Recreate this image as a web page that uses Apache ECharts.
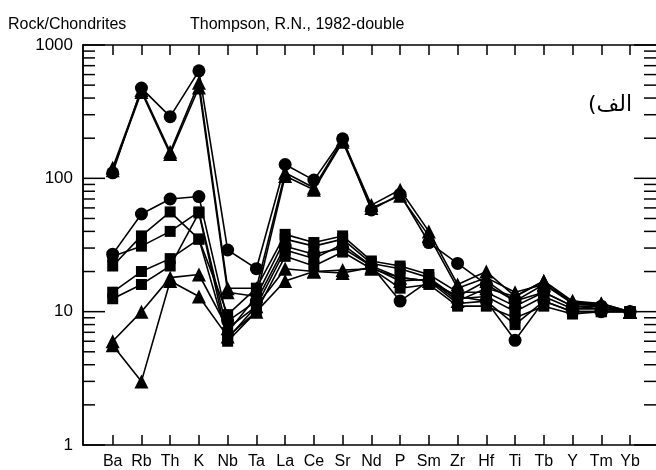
<!DOCTYPE html>
<html>
<head>
<meta charset="utf-8">
<script src="https://cdn.jsdelivr.net/npm/echarts@6/dist/echarts.min.js"></script>
<style>html,body{margin:0;padding:0;background:#fff}#c{width:656px;height:470px}</style>
</head>
<body>
<div id="c"></div>
<script>
const categories = ['Ba','Rb','Th','K','Nb','Ta','La','Ce','Sr','Nd','P','Sm','Zr','Hf','Ti','Tb','Y','Tm','Yb'];
const yTickLabels = [1, 10, 100, 1000];
const minorTickValues = [2,3,4,5,6,7,8,9,20,30,40,50,60,70,80,90,200,300,400,500,600,700,800,900];

// high group
const highCircle   = [110, 475, 290, 640, 29, 21, 127, 97, 198, 58, 76, 33, 23, 16, 12, 14, 11, 11, 10];
const highTriA     = [120, 460, 158, 520, 15, 15, 110, 85, 195, 63, 82, 40, 16, 20, 13, 17, 12, 11.5, 10];
const highTriB     = [115, 445, 152, 480, 14, 13, 104, 82, 188, 60, 74, 37, 15, 18, 14, 16, 11.5, 11, 10];
// middle circle
const midCircle    = [27, 54, 70, 73, 8.5, 12, 31, 27, 30, 22, 12, 17, 13, 12, 6.1, 12, 10, 10, 10];
// squares
const squareA      = [22, 37, 56, 35, 9.5, 15, 38, 33, 37, 24, 22, 19, 14, 14, 11, 14, 11, 10.5, 10];
const squareB      = [26, 31, 40, 56, 7, 13, 35, 31, 35, 23, 21, 18, 12.5, 13, 10, 13, 10.5, 10.5, 10];
const squareC      = [14, 20, 25, 35, 6.3, 11, 29, 25, 32, 22, 18, 17, 11.5, 12, 8, 12, 10, 10, 10];
const squareD      = [12.5, 16, 22, 55, 6, 10, 26, 22, 28, 21, 15, 16, 11, 11, 9, 11, 9.6, 10, 10];
// low triangles
const lowTriA      = [6, 10, 18, 19, 7.5, 11, 21, 20, 20.5, 21, 18, 17, 13, 17, 12, 16, 12, 11, 10];
const lowTriB      = [5.6, 3, 17, 13, 6.5, 10, 17, 20, 19.5, 21.5, 17, 17.5, 12, 15, 13, 17, 11.5, 11.5, 10];

const FONT = 'Liberation Sans';
function dataSeries(name, data, symbol, size) {
  return {
    name, type: 'line', xAxisIndex: 2, yAxisIndex: 2, data,
    symbol, symbolSize: size, showAllSymbol: true, clip: false,
    lineStyle: { color: '#000', width: 1.6 },
    itemStyle: { color: '#000', borderWidth: 0 },
    emphasis: { disabled: true }
  };
}
function tickSeries(values, len) {
  return {
    type: 'custom', xAxisIndex: 0, yAxisIndex: 0, silent: true, clip: false,
    data: values.map(v => [0, v]),
    encode: { x: 0, y: 1 },
    renderItem: (params, api) => {
      const v = api.value(1);
      const pl = api.coord([0, v]);
      const pr = api.coord([1, v]);
      return { type: 'group', children: [
        { type: 'line', shape: { x1: pl[0], y1: pl[1], x2: pl[0] + len, y2: pl[1] }, style: { stroke: '#000', lineWidth: 1.5 } },
        { type: 'line', shape: { x1: pr[0] - len, y1: pr[1], x2: pr[0], y2: pr[1] }, style: { stroke: '#000', lineWidth: 1.5 } }
      ] };
    }
  };
}

const chart = echarts.init(document.getElementById('c'), null, { renderer: 'canvas' });
const frameLine = { show: true, lineStyle: { color: '#000', width: 1.5 } };
const option = {
  animation: false,
  backgroundColor: '#fff',
  title: [
    { text: 'Rock/Chondrites', left: 3, top: 12, textStyle: { fontFamily: FONT, fontSize: 16, fontWeight: 'normal', color: '#000' } },
    { text: 'Thompson, R.N., 1982-double', left: 185, top: 12, textStyle: { fontFamily: FONT, fontSize: 16, fontWeight: 'normal', color: '#000' } }
  ],
  graphic: [
    { type: 'text', left: 588, top: 94, style: { text: '\u200E(الف', font: '22px "DejaVu Sans"', fill: '#000' } }
  ],
  grid: [
    { left: 83, right: -4, top: 45, bottom: 25 },
    { left: 98.33, right: 11.61, top: 45, bottom: 25 }
  ],
  xAxis: [
    { gridIndex: 0, type: 'value', min: 0, max: 1, position: 'bottom', axisLine: frameLine, axisTick: { show: false }, axisLabel: { show: false }, splitLine: { show: false } },
    { gridIndex: 0, type: 'value', min: 0, max: 1, position: 'top', axisLine: frameLine, axisTick: { show: false }, axisLabel: { show: false }, splitLine: { show: false } },
    { gridIndex: 1, type: 'category', data: categories, position: 'bottom', boundaryGap: true,
      axisLine: { show: false },
      axisTick: { show: true, inside: true, length: 10, alignWithLabel: true, interval: 0, lineStyle: { color: '#000', width: 1.5 } },
      axisLabel: { show: true, interval: 0, margin: 9, fontFamily: FONT, fontSize: 16, color: '#000' },
      splitLine: { show: false } },
    { gridIndex: 1, type: 'category', data: categories, position: 'top', boundaryGap: true,
      axisLine: { show: false },
      axisTick: { show: true, inside: true, length: 10, alignWithLabel: true, interval: 0, lineStyle: { color: '#000', width: 1.5 } },
      axisLabel: { show: false }, splitLine: { show: false } }
  ],
  yAxis: [
    { gridIndex: 0, type: 'log', logBase: 10, min: 1, max: 1000, position: 'left',
      axisLine: frameLine,
      axisTick: { show: false },
      axisLabel: { show: true, margin: 10, fontFamily: FONT, fontSize: 17, color: '#000',
        formatter: v => (yTickLabels.indexOf(Math.round(v)) >= 0 ? String(Math.round(v)) : '') },
      splitLine: { show: false } },
    { gridIndex: 0, type: 'log', logBase: 10, min: 1, max: 1000, position: 'right',
      axisLine: frameLine,
      axisTick: { show: false },
      axisLabel: { show: false }, splitLine: { show: false } },
    { gridIndex: 1, type: 'log', logBase: 10, min: 1, max: 1000, show: false }
  ],
  series: [
    tickSeries(minorTickValues, 12),
    tickSeries(yTickLabels, 22),
    dataSeries('lowTriA', lowTriA, 'triangle', 14),
    dataSeries('lowTriB', lowTriB, 'triangle', 14),
    dataSeries('squareD', squareD, 'rect', 11),
    dataSeries('squareC', squareC, 'rect', 11),
    dataSeries('squareB', squareB, 'rect', 11),
    dataSeries('squareA', squareA, 'rect', 11),
    dataSeries('midCircle', midCircle, 'circle', 13),
    dataSeries('highTriB', highTriB, 'triangle', 14),
    dataSeries('highTriA', highTriA, 'triangle', 14),
    dataSeries('highCircle', highCircle, 'circle', 13)
  ]
};
chart.setOption(option);
</script>
</body>
</html>
